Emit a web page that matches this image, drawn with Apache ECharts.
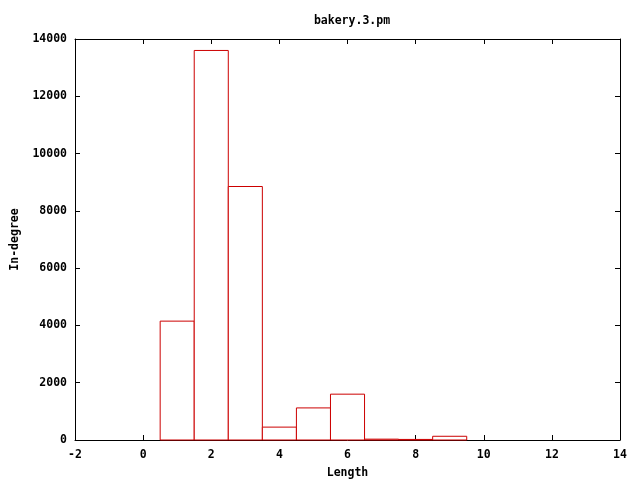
<!DOCTYPE html>
<html>
<head>
<meta charset="utf-8">
<script src="https://cdn.jsdelivr.net/npm/echarts@6/dist/echarts.min.js"></script>
<style>html,body{margin:0;padding:0;background:#fff;}#c{width:640px;height:480px;}</style>
</head>
<body>
<div id="c"></div>
<script>
var lengths = [1, 2, 3, 4, 5, 6, 7, 8, 9];
var inDegree = [4150, 13600, 8850, 450, 1120, 1600, 30, 20, 130];
var xTicks = [-2, 0, 2, 4, 6, 8, 10, 12, 14];
var yTicks = [0, 2000, 4000, 6000, 8000, 10000, 12000, 14000];

var font = 'DejaVu Sans Mono';
var chart = echarts.init(document.getElementById('c'), null, {renderer: 'canvas'});
var axisLabelStyle = {fontFamily: font, fontWeight: 'bold', fontSize: 11.5, color: '#000'};
var data = lengths.map(function (x, i) { return [x, inDegree[i]]; });
var plain = function (v) { return String(v); };

chart.setOption({
  animation: false,
  backgroundColor: '#fff',
  title: {
    text: 'bakery.3.pm', left: 347, top: 10, textAlign: 'center',
    textStyle: {fontFamily: font, fontWeight: 'bold', fontSize: 11.5, color: '#000'}
  },
  grid: {left: 75, right: 20, top: 39, bottom: 40, containLabel: false, outerBoundsMode: 'none'},
  xAxis: [{
    type: 'value', min: xTicks[0], max: xTicks[xTicks.length - 1], interval: 2,
    name: 'Length', nameLocation: 'middle', nameGap: 27,
    nameTextStyle: axisLabelStyle,
    axisLine: {show: true, onZero: false, lineStyle: {color: '#000', width: 1}},
    axisTick: {show: true, inside: true, length: 5, lineStyle: {color: '#000'}},
    axisLabel: Object.assign({margin: 9, formatter: plain}, axisLabelStyle),
    splitLine: {show: false}
  }, {
    type: 'value', position: 'top', min: xTicks[0], max: xTicks[xTicks.length - 1], interval: 2,
    axisLine: {show: true, onZero: false, lineStyle: {color: '#000', width: 1}},
    axisTick: {show: true, inside: true, length: 5, lineStyle: {color: '#000'}},
    axisLabel: {show: false}, splitLine: {show: false}
  }],
  yAxis: [{
    type: 'value', min: yTicks[0], max: yTicks[yTicks.length - 1], interval: 2000,
    name: 'In-degree', nameLocation: 'middle', nameGap: 54, nameRotate: 90,
    nameTextStyle: axisLabelStyle,
    axisLine: {show: true, onZero: false, lineStyle: {color: '#000', width: 1}},
    axisTick: {show: true, inside: true, length: 5, lineStyle: {color: '#000'}},
    axisLabel: Object.assign({margin: 8, formatter: plain}, axisLabelStyle),
    splitLine: {show: false}
  }, {
    type: 'value', position: 'right', min: yTicks[0], max: yTicks[yTicks.length - 1], interval: 2000,
    axisLine: {show: true, onZero: false, lineStyle: {color: '#000', width: 1}},
    axisTick: {show: true, inside: true, length: 5, lineStyle: {color: '#000'}},
    axisLabel: {show: false}, splitLine: {show: false}
  }],
  series: [{
    type: 'custom',
    xAxisIndex: 0, yAxisIndex: 0,
    data: data,
    renderItem: function (params, api) {
      var x = api.value(0), y = api.value(1);
      var p0 = api.coord([x - 0.5, y]);
      var p1 = api.coord([x + 0.5, 0]);
      return {
        type: 'rect',
        shape: {x: p0[0], y: p0[1], width: p1[0] - p0[0], height: p1[1] - p0[1]},
        style: {fill: '#fff', stroke: '#cc0000', lineWidth: 1}
      };
    }
  }]
});
</script>
</body>
</html>
